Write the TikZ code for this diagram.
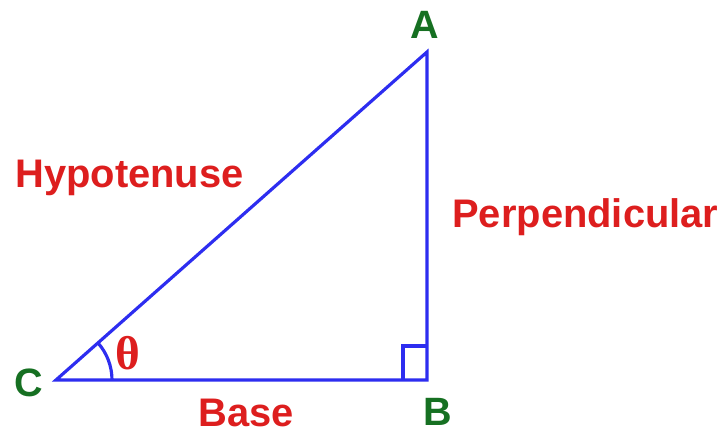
\documentclass[tikz,border=0pt]{standalone}
\usepackage{fontspec}
\setmainfont{Liberation Sans}
\newfontfamily\thetafont{Liberation Serif}
\usepackage{tikz}
\usetikzlibrary{positioning,calc}
\usepackage{xcolor}
\definecolor{cblue}{RGB}{45,45,240}
\definecolor{cred}{RGB}{221,30,30}
\definecolor{cgreen}{RGB}{22,112,34}
\tikzset{
  side/.style={draw=cblue, line width=1.8pt, line join=miter},
  vlabel/.style={
    text=cgreen, inner sep=0pt,
    font=\fontsize{22.5}{26}\selectfont\bfseries
  },
  slabel/.style={
    text=cred, inner sep=0pt,
    font=\fontsize{22.7}{27}\selectfont\bfseries
  }
}

\begin{document}
\begin{tikzpicture}[x=0.02cm, y=0.02cm]
    \useasboundingbox (0,0) rectangle (725,435);

    %% Vertices
    \coordinate (C) at (56,55);
    \coordinate (B) at (427,55);
    \coordinate (A) at (427,383);

    %% Triangle
    \draw[side] (C) -- (B) -- (A) -- cycle;

    %% Right angle mark and angle arc
    \draw[side] ($(B)+(-24,0)$) -- ++(0,34) -- ++(24,0);
    \draw[side] ($(C)+(56,0)$) arc[start angle=0, end angle=41.5, radius=56];

    %% Vertex labels
    \node[vlabel] (lA) at (425,410) {A};
    \node[vlabel] (lB) at (438,23) {B};
    \node[vlabel] (lC) at (29,52) {C};

    %% Side labels
    \node[slabel, anchor=base west] (hyp) at (15,247) {Hypotenuse};
    \node[slabel, anchor=base west] (perp) at (452,207) {Perpendicular};
    \node[slabel, anchor=base west] (base) at (198,8) {Base};
    \node[text=cred, inner sep=0pt,
      font=\fontsize{27}{30}\selectfont\thetafont\bfseries] (th) at (128,82) {θ};

\end{tikzpicture}
\end{document}
